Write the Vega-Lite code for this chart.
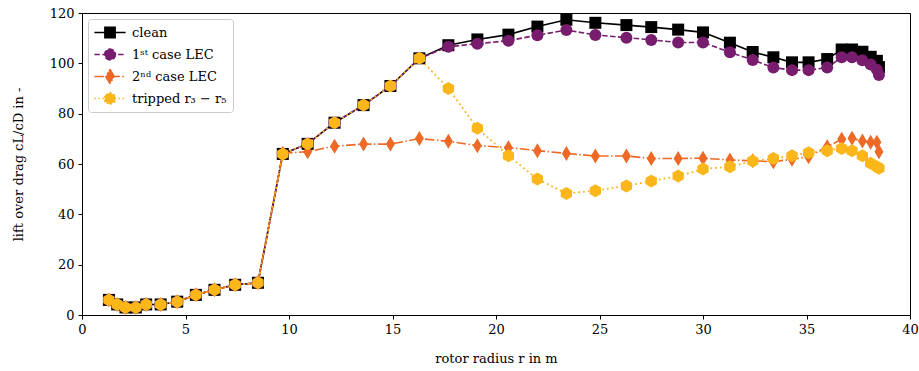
{
  "$schema": "https://vega.github.io/schema/vega-lite/v6.json",
  "width": 828,
  "height": 302,
  "autosize": {"type": "none"},
  "padding": {"left": 82, "top": 13, "right": 9, "bottom": 56},
  "background": "white",
  "config": {
    "view": {"stroke": "black", "strokeWidth": 1},
    "axis": {
      "domain": false, "grid": false, "ticks": true, "tickColor": "black", "tickSize": 4, "tickWidth": 1,
      "labelFont": "DejaVu Serif", "labelFontSize": 13, "labelColor": "black", "labelPadding": 4,
      "labelFlush": false, "labelOverlap": false,
      "titleFont": "DejaVu Serif", "titleFontSize": 13, "titleFontWeight": "normal", "titleColor": "black"
    },
    "legend": {
      "labelFont": "DejaVu Serif", "labelFontSize": 13, "labelColor": "black"
    }
  },
  "data": {"values": [
    {"s":"clean","r":1.3,"v":6},{"s":"clean","r":1.7,"v":4.2},{"s":"clean","r":2.1,"v":3},{"s":"clean","r":2.6,"v":3},{"s":"clean","r":3.1,"v":4.2},{"s":"clean","r":3.8,"v":4.2},{"s":"clean","r":4.6,"v":5.3},{"s":"clean","r":5.5,"v":8},{"s":"clean","r":6.4,"v":10},{"s":"clean","r":7.4,"v":12},{"s":"clean","r":8.5,"v":12.8},{"s":"clean","r":9.7,"v":64},{"s":"clean","r":10.9,"v":68},{"s":"clean","r":12.2,"v":76.4},{"s":"clean","r":13.6,"v":83.4},{"s":"clean","r":14.9,"v":91},{"s":"clean","r":16.3,"v":102},{"s":"clean","r":17.7,"v":107.2},{"s":"clean","r":19.1,"v":109.5},{"s":"clean","r":20.6,"v":111.4},{"s":"clean","r":22.0,"v":114.6},{"s":"clean","r":23.4,"v":117.3},{"s":"clean","r":24.8,"v":116.1},{"s":"clean","r":26.3,"v":115.2},{"s":"clean","r":27.5,"v":114.4},{"s":"clean","r":28.8,"v":113.4},{"s":"clean","r":30.0,"v":112.3},{"s":"clean","r":31.3,"v":108.2},{"s":"clean","r":32.4,"v":104.5},{"s":"clean","r":33.4,"v":102.4},{"s":"clean","r":34.3,"v":100.4},{"s":"clean","r":35.1,"v":100.4},{"s":"clean","r":36.0,"v":101.7},{"s":"clean","r":36.7,"v":105.5},{"s":"clean","r":37.2,"v":105.5},{"s":"clean","r":37.7,"v":104.6},{"s":"clean","r":38.1,"v":102.6},{"s":"clean","r":38.4,"v":101},{"s":"clean","r":38.5,"v":98.5},
    {"s":"1ˢᵗ case LEC","r":1.3,"v":6},{"s":"1ˢᵗ case LEC","r":1.7,"v":4.2},{"s":"1ˢᵗ case LEC","r":2.1,"v":3},{"s":"1ˢᵗ case LEC","r":2.6,"v":3},{"s":"1ˢᵗ case LEC","r":3.1,"v":4.2},{"s":"1ˢᵗ case LEC","r":3.8,"v":4.2},{"s":"1ˢᵗ case LEC","r":4.6,"v":5.3},{"s":"1ˢᵗ case LEC","r":5.5,"v":8},{"s":"1ˢᵗ case LEC","r":6.4,"v":10},{"s":"1ˢᵗ case LEC","r":7.4,"v":12},{"s":"1ˢᵗ case LEC","r":8.5,"v":12.8},{"s":"1ˢᵗ case LEC","r":9.7,"v":64},{"s":"1ˢᵗ case LEC","r":10.9,"v":68},{"s":"1ˢᵗ case LEC","r":12.2,"v":76.4},{"s":"1ˢᵗ case LEC","r":13.6,"v":83.4},{"s":"1ˢᵗ case LEC","r":14.9,"v":91},{"s":"1ˢᵗ case LEC","r":16.3,"v":102},{"s":"1ˢᵗ case LEC","r":17.7,"v":106.6},{"s":"1ˢᵗ case LEC","r":19.1,"v":107.8},{"s":"1ˢᵗ case LEC","r":20.6,"v":109},{"s":"1ˢᵗ case LEC","r":22.0,"v":111.2},{"s":"1ˢᵗ case LEC","r":23.4,"v":113.2},{"s":"1ˢᵗ case LEC","r":24.8,"v":111.3},{"s":"1ˢᵗ case LEC","r":26.3,"v":110.2},{"s":"1ˢᵗ case LEC","r":27.5,"v":109.3},{"s":"1ˢᵗ case LEC","r":28.8,"v":108.3},{"s":"1ˢᵗ case LEC","r":30.0,"v":108.3},{"s":"1ˢᵗ case LEC","r":31.3,"v":104.4},{"s":"1ˢᵗ case LEC","r":32.4,"v":101.3},{"s":"1ˢᵗ case LEC","r":33.4,"v":98.3},{"s":"1ˢᵗ case LEC","r":34.3,"v":97.3},{"s":"1ˢᵗ case LEC","r":35.1,"v":97.3},{"s":"1ˢᵗ case LEC","r":36.0,"v":98.3},{"s":"1ˢᵗ case LEC","r":36.7,"v":102.4},{"s":"1ˢᵗ case LEC","r":37.2,"v":102.4},{"s":"1ˢᵗ case LEC","r":37.7,"v":101.2},{"s":"1ˢᵗ case LEC","r":38.1,"v":99.5},{"s":"1ˢᵗ case LEC","r":38.4,"v":97.5},{"s":"1ˢᵗ case LEC","r":38.5,"v":95.4},
    {"s":"2ⁿᵈ case LEC","r":1.3,"v":6},{"s":"2ⁿᵈ case LEC","r":1.7,"v":4.2},{"s":"2ⁿᵈ case LEC","r":2.1,"v":3},{"s":"2ⁿᵈ case LEC","r":2.6,"v":3},{"s":"2ⁿᵈ case LEC","r":3.1,"v":4.2},{"s":"2ⁿᵈ case LEC","r":3.8,"v":4.2},{"s":"2ⁿᵈ case LEC","r":4.6,"v":5.3},{"s":"2ⁿᵈ case LEC","r":5.5,"v":8},{"s":"2ⁿᵈ case LEC","r":6.4,"v":10},{"s":"2ⁿᵈ case LEC","r":7.4,"v":12},{"s":"2ⁿᵈ case LEC","r":8.5,"v":12.8},{"s":"2ⁿᵈ case LEC","r":9.7,"v":64.3},{"s":"2ⁿᵈ case LEC","r":10.9,"v":64.9},{"s":"2ⁿᵈ case LEC","r":12.2,"v":67.1},{"s":"2ⁿᵈ case LEC","r":13.6,"v":67.9},{"s":"2ⁿᵈ case LEC","r":14.9,"v":67.9},{"s":"2ⁿᵈ case LEC","r":16.3,"v":70.1},{"s":"2ⁿᵈ case LEC","r":17.7,"v":69},{"s":"2ⁿᵈ case LEC","r":19.1,"v":67.3},{"s":"2ⁿᵈ case LEC","r":20.6,"v":66.5},{"s":"2ⁿᵈ case LEC","r":22.0,"v":65.3},{"s":"2ⁿᵈ case LEC","r":23.4,"v":64.2},{"s":"2ⁿᵈ case LEC","r":24.8,"v":63.2},{"s":"2ⁿᵈ case LEC","r":26.3,"v":63.2},{"s":"2ⁿᵈ case LEC","r":27.5,"v":62.2},{"s":"2ⁿᵈ case LEC","r":28.8,"v":62.2},{"s":"2ⁿᵈ case LEC","r":30.0,"v":62.3},{"s":"2ⁿᵈ case LEC","r":31.3,"v":61.6},{"s":"2ⁿᵈ case LEC","r":32.4,"v":61.3},{"s":"2ⁿᵈ case LEC","r":33.4,"v":60.9},{"s":"2ⁿᵈ case LEC","r":34.3,"v":61.9},{"s":"2ⁿᵈ case LEC","r":35.1,"v":62.9},{"s":"2ⁿᵈ case LEC","r":36.0,"v":66.9},{"s":"2ⁿᵈ case LEC","r":36.7,"v":69.8},{"s":"2ⁿᵈ case LEC","r":37.2,"v":70.2},{"s":"2ⁿᵈ case LEC","r":37.7,"v":69.1},{"s":"2ⁿᵈ case LEC","r":38.1,"v":68.6},{"s":"2ⁿᵈ case LEC","r":38.4,"v":68.6},{"s":"2ⁿᵈ case LEC","r":38.5,"v":64.9},
    {"s":"tripped r₃ − r₅","r":1.3,"v":6},{"s":"tripped r₃ − r₅","r":1.7,"v":4.2},{"s":"tripped r₃ − r₅","r":2.1,"v":3},{"s":"tripped r₃ − r₅","r":2.6,"v":3},{"s":"tripped r₃ − r₅","r":3.1,"v":4.2},{"s":"tripped r₃ − r₅","r":3.8,"v":4.2},{"s":"tripped r₃ − r₅","r":4.6,"v":5.3},{"s":"tripped r₃ − r₅","r":5.5,"v":8},{"s":"tripped r₃ − r₅","r":6.4,"v":10},{"s":"tripped r₃ − r₅","r":7.4,"v":12},{"s":"tripped r₃ − r₅","r":8.5,"v":12.8},{"s":"tripped r₃ − r₅","r":9.7,"v":64},{"s":"tripped r₃ − r₅","r":10.9,"v":68},{"s":"tripped r₃ − r₅","r":12.2,"v":76.4},{"s":"tripped r₃ − r₅","r":13.6,"v":83.4},{"s":"tripped r₃ − r₅","r":14.9,"v":91},{"s":"tripped r₃ − r₅","r":16.3,"v":102},{"s":"tripped r₃ − r₅","r":17.7,"v":90},{"s":"tripped r₃ − r₅","r":19.1,"v":74.2},{"s":"tripped r₃ − r₅","r":20.6,"v":63.3},{"s":"tripped r₃ − r₅","r":22.0,"v":54},{"s":"tripped r₃ − r₅","r":23.4,"v":48.3},{"s":"tripped r₃ − r₅","r":24.8,"v":49.4},{"s":"tripped r₃ − r₅","r":26.3,"v":51.3},{"s":"tripped r₃ − r₅","r":27.5,"v":53.2},{"s":"tripped r₃ − r₅","r":28.8,"v":55.2},{"s":"tripped r₃ − r₅","r":30.0,"v":58},{"s":"tripped r₃ − r₅","r":31.3,"v":58.9},{"s":"tripped r₃ − r₅","r":32.4,"v":61.2},{"s":"tripped r₃ − r₅","r":33.4,"v":62.2},{"s":"tripped r₃ − r₅","r":34.3,"v":63.3},{"s":"tripped r₃ − r₅","r":35.1,"v":64.5},{"s":"tripped r₃ − r₅","r":36.0,"v":65.3},{"s":"tripped r₃ − r₅","r":36.7,"v":66.2},{"s":"tripped r₃ − r₅","r":37.2,"v":65.3},{"s":"tripped r₃ − r₅","r":37.7,"v":63.3},{"s":"tripped r₃ − r₅","r":38.1,"v":60.3},{"s":"tripped r₃ − r₅","r":38.4,"v":58.9},{"s":"tripped r₃ − r₅","r":38.5,"v":58.3}
  ]},
  "encoding": {
    "x": {"field": "r", "type": "quantitative", "title": "rotor radius r in m",
      "scale": {"domain": [0, 40], "nice": false, "zero": false},
      "axis": {"values": [0, 5, 10, 15, 20, 25, 30, 35, 40], "titlePadding": 16}},
    "y": {"field": "v", "type": "quantitative", "title": "lift over drag cL/cD in -",
      "scale": {"domain": [0, 120], "nice": false},
      "axis": {"values": [0, 20, 40, 60, 80, 100, 120], "titlePadding": 24}},
    "color": {"field": "s", "type": "nominal", "title": null,
      "scale": {"domain": ["clean", "1ˢᵗ case LEC", "2ⁿᵈ case LEC", "tripped r₃ − r₅"], "range": ["#000000", "#781c6d", "#ed6925", "#fbb61a"]},
      "legend": {
        "orient": "top-left", "offset": 6, "padding": 6, "fillColor": "white", "strokeColor": "#cccccc", "cornerRadius": 3,
        "labelFont": "DejaVu Serif", "labelFontSize": 13, "labelColor": "black",
        "symbolSize": 144, "symbolStrokeWidth": 1.6, "symbolOffset": 9, "labelOffset": 15, "rowPadding": 7, "clipHeight": 15,
        "encode": {"symbols": {"update": {
          "shape": {"signal": "datum.value === 'clean' ? 'M-2.6,0L2.6,0M-0.85,-0.85L0.85,-0.85L0.85,0.85L-0.85,0.85Z' : datum.value === '1ˢᵗ case LEC' ? 'M-2.6,0L2.6,0M0.9,0A0.9,0.9,0,1,1,-0.9,0A0.9,0.9,0,1,1,0.9,0Z' : datum.value === '2ⁿᵈ case LEC' ? 'M-2.6,0L2.6,0M0,-1.2L0.7,0L0,1.2L-0.7,0Z' : 'M-2.6,0L2.6,0M0,-1L0.87,-0.5L0.87,0.5L0,1L-0.87,0.5L-0.87,-0.5Z'"},
          "strokeDash": {"signal": "datum.value === '1ˢᵗ case LEC' ? [5.5,2.4] : datum.value === '2ⁿᵈ case LEC' ? [9.6,2.4,1.5,2.4] : datum.value === 'clean' ? [1,0] : [1.5,2.5]"},
          "stroke": {"signal": "datum.value === 'clean' ? '#000000' : datum.value === '1ˢᵗ case LEC' ? '#781c6d' : datum.value === '2ⁿᵈ case LEC' ? '#ed6925' : '#fbb61a'"},
          "strokeWidth": {"value": 1.6},
          "opacity": {"value": 1}
        }}}
      }}
  },
  "layer": [
    {"transform": [{"filter": "datum.s === 'clean'"}],
     "mark": {"type": "line", "strokeWidth": 1.6}},
    {"transform": [{"filter": "datum.s === 'clean'"}],
     "mark": {"type": "point", "filled": true, "size": 144, "opacity": 1, "shape": "square"}},
    {"transform": [{"filter": "datum.s === '1ˢᵗ case LEC'"}],
     "mark": {"type": "line", "strokeWidth": 1.6, "strokeDash": [5.5, 2.4]}},
    {"transform": [{"filter": "datum.s === '1ˢᵗ case LEC'"}],
     "mark": {"type": "point", "filled": true, "size": 144, "opacity": 1, "shape": "circle"}},
    {"transform": [{"filter": "datum.s === '2ⁿᵈ case LEC'"}],
     "mark": {"type": "line", "strokeWidth": 1.6, "strokeDash": [9.6, 2.4, 1.5, 2.4]}},
    {"transform": [{"filter": "datum.s === '2ⁿᵈ case LEC'"}],
     "mark": {"type": "point", "filled": true, "size": 144, "opacity": 1, "shape": "M0,-1.25L0.75,0L0,1.25L-0.75,0Z"}},
    {"transform": [{"filter": "datum.s === 'tripped r₃ − r₅'"}],
     "mark": {"type": "line", "strokeWidth": 1.8, "strokeDash": [1.8, 3]}},
    {"transform": [{"filter": "datum.s === 'tripped r₃ − r₅'"}],
     "mark": {"type": "point", "filled": true, "size": 144, "opacity": 1, "shape": "M0,-1.08L0.94,-0.54L0.94,0.54L0,1.08L-0.94,0.54L-0.94,-0.54Z"}}
  ]
}
